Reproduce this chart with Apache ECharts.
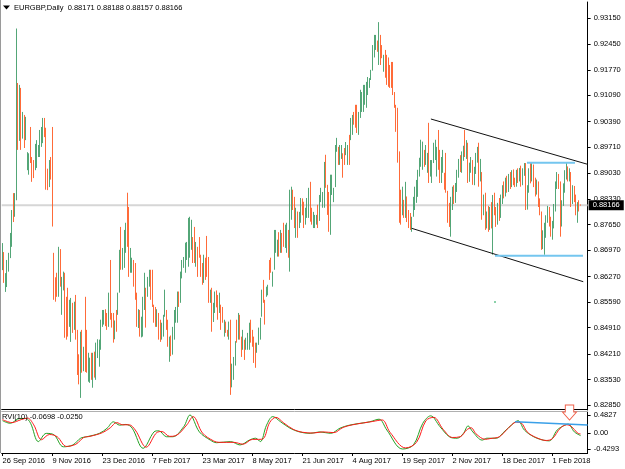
<!DOCTYPE html>
<html><head><meta charset="utf-8">
<script src="https://cdn.jsdelivr.net/npm/echarts@6/dist/echarts.min.js"></script>
<style>html,body{margin:0;padding:0;background:#fff}#c{width:625px;height:469px}</style>
</head><body><div id="c"></div>
<script>
// ---------- data ----------
const symbolName = 'EURGBP,Daily';
const lastBarOHLC = [0.88171, 0.88188, 0.88157, 0.88166];
const rviLast = [-0.0698, -0.0250];
const tickLabels = ['26 Sep 2016','9 Nov 2016','23 Dec 2016','7 Feb 2017','23 Mar 2017','8 May 2017','21 Jun 2017','4 Aug 2017','19 Sep 2017','2 Nov 2017','18 Dec 2017','1 Feb 2018'];
const priceTicks = [0.82850,0.83530,0.84210,0.84910,0.85590,0.86270,0.86970,0.87650,0.88330,0.89030,0.89710,0.90390,0.91090,0.91770,0.92450,0.93150];
const rviTicks = [0.4827, 0, -0.4293];
const skipDays = ['2017-12-25'];

// candles: [open, close, low, high]
const sep16 = [[.8660,.8700,.8644,.8716],[.8690,.8620,.8610,.8692],[.8595,.8630,.8586,.8636],[.8610,.8660,.8599,.8671],[.8650,.8680,.8640,.8690]];
const oct16 = [[.8680,.8735,.8676,.8743],[.8720,.8795,.8706,.8804],[.8838,.8790,.8772,.8849],[.8795,.8840,.8786,.8849],[.8840,.8995,.8830,.9287],[.9120,.8990,.8964,.9142],[.8995,.9110,.8988,.9137],[.9110,.8975,.8964,.9129],[.8995,.9050,.8994,.9065],[.9050,.8975,.8969,.9057],[.8990,.9040,.8990,.9052],[.8920,.8950,.8910,.8958],[.8910,.8945,.8898,.8955],[.9010,.8940,.8929,.9025],[.8940,.8890,.8879,.8945],[.8920,.8895,.8889,.8937],[.8915,.8960,.8910,.8980],[.8920,.8975,.8916,.8990],[.8950,.8970,.8945,.8977],[.8950,.9000,.8945,.9017],[.8990,.9020,.8972,.9025]];
const nov16 = [[.9020,.9045,.8982,.9049],[.9045,.9005,.8998,.9049],[.9015,.8870,.8858,.9023],[.8900,.8865,.8857,.8914],[.8870,.8920,.8865,.8937],[.8925,.8900,.8885,.8945],[.8895,.8805,.8760,.9025],[.8675,.8585,.8565,.8690],[.8600,.8575,.8560,.8625],[.8620,.8585,.8573,.8637],[.8585,.8690,.8573,.8706],[.8690,.8615,.8600,.8700],[.8535,.8615,.8525,.8626],[.8615,.8625,.8590,.8640],[.8630,.8480,.8464,.8637],[.8560,.8490,.8459,.8573],[.8580,.8475,.8467,.8597],[.8495,.8555,.8493,.8565],[.8460,.8560,.8453,.8570],[.8550,.8490,.8477,.8557],[.8490,.8545,.8485,.8560],[.8570,.8470,.8459,.8578]];
const dec16 = [[.8480,.8380,.8365,.8485],[.8390,.8350,.8340,.8420],[.8320,.8460,.8304,.8480],[.8470,.8395,.8371,.8485],[.8390,.8430,.8375,.8440],[.8450,.8390,.8373,.8573],[.8470,.8385,.8371,.8485],[.8360,.8415,.8347,.8424],[.8350,.8400,.8344,.8411],[.8415,.8365,.8352,.8424],[.8340,.8410,.8331,.8424],[.8420,.8370,.8358,.8427],[.8360,.8440,.8352,.8451],[.8430,.8450,.8410,.8460],[.8395,.8450,.8387,.8459],[.8440,.8505,.8432,.8512],[.8500,.8530,.8493,.8538],[.8505,.8530,.8499,.8538],[.8530,.8505,.8495,.8540],[.8525,.8495,.8485,.8530],[.8495,.8570,.8493,.8584],[.8600,.8525,.8512,.8671]];
const jan17 = [[.8525,.8500,.8491,.8530],[.8525,.8465,.8451,.8530],[.8465,.8500,.8460,.8510],[.8530,.8490,.8480,.8538],[.8530,.8575,.8525,.8584],[.8590,.8690,.8584,.8698],[.8750,.8660,.8645,.8759],[.8650,.8695,.8645,.8703],[.8660,.8740,.8650,.8751],[.8700,.8760,.8690,.8770],[.8760,.8720,.8706,.8850],[.8790,.8640,.8626,.8812],[.8645,.8695,.8637,.8703],[.8645,.8670,.8637,.8677],[.8670,.8610,.8600,.8671],[.8655,.8580,.8565,.8663],[.8580,.8500,.8493,.8584],[.8500,.8530,.8490,.8540],[.8535,.8475,.8467,.8538],[.8475,.8510,.8465,.8520],[.8475,.8565,.8467,.8573],[.8540,.8620,.8538,.8637]];
const feb17 = [[.8590,.8505,.8491,.8597],[.8580,.8620,.8573,.8626],[.8610,.8640,.8600,.8645],[.8640,.8580,.8565,.8645],[.8630,.8560,.8546,.8645],[.8550,.8520,.8504,.8552],[.8545,.8500,.8493,.8546],[.8500,.8530,.8493,.8540],[.8530,.8470,.8459,.8530],[.8505,.8465,.8453,.8512],[.8465,.8495,.8459,.8504],[.8470,.8515,.8467,.8525],[.8525,.8580,.8520,.8592],[.8535,.8495,.8485,.8538],[.8510,.8450,.8440,.8512],[.8410,.8455,.8400,.8467],[.8450,.8430,.8415,.8470],[.8425,.8485,.8419,.8493],[.8470,.8530,.8459,.8538],[.8515,.8540,.8504,.8546]];
const mar17 = [[.8510,.8580,.8504,.8587],[.8585,.8555,.8546,.8587],[.8560,.8630,.8557,.8640],[.8630,.8665,.8622,.8671],[.8650,.8672,.8650,.8679],[.8645,.8700,.8637,.8717],[.8680,.8710,.8671,.8719],[.8670,.8770,.8653,.8783],[.8720,.8780,.8677,.8786],[.8730,.8765,.8698,.8778],[.8720,.8675,.8663,.8732],[.8740,.8680,.8663,.8759],[.8665,.8710,.8653,.8719],[.8700,.8640,.8626,.8706],[.8725,.8690,.8677,.8732],[.8680,.8640,.8626,.8685],[.8660,.8615,.8605,.8663],[.8615,.8675,.8610,.8685],[.8670,.8630,.8618,.8677],[.8720,.8640,.8626,.8735],[.8670,.8570,.8557,.8679],[.8565,.8585,.8557,.8592],[.8590,.8490,.8480,.8597]];
const apr17 = [[.8510,.8550,.8506,.8557],[.8540,.8575,.8530,.8587],[.8575,.8560,.8545,.8590],[.8570,.8525,.8512,.8578],[.8535,.8570,.8530,.8584],[.8550,.8500,.8485,.8552],[.8540,.8510,.8504,.8546],[.8490,.8505,.8467,.8512],[.8505,.8485,.8477,.8507],[.8482,.8472,.8467,.8485],[.8465,.8500,.8459,.8507],[.8500,.8330,.8312,.8512],[.8340,.8390,.8332,.8395],[.8370,.8400,.8352,.8413],[.8400,.8440,.8390,.8455],[.8490,.8460,.8451,.8512],[.8460,.8515,.8459,.8530],[.8520,.8470,.8459,.8525],[.8465,.8430,.8413,.8467],[.8435,.8475,.8432,.8485]];
const may17 = [[.8455,.8420,.8405,.8459],[.8435,.8455,.8432,.8464],[.8440,.8470,.8432,.8477],[.8445,.8495,.8432,.8504],[.8500,.8470,.8451,.8512],[.8470,.8455,.8440,.8485],[.8460,.8410,.8397,.8467],[.8420,.8395,.8384,.8451],[.8430,.8445,.8424,.8451],[.8450,.8480,.8445,.8491],[.8460,.8510,.8459,.8517],[.8525,.8585,.8520,.8592],[.8600,.8570,.8557,.8618],[.8560,.8510,.8499,.8565],[.8575,.8595,.8573,.8600],[.8580,.8600,.8577,.8605],[.8660,.8625,.8618,.8671],[.8670,.8645,.8637,.8677],[.8610,.8635,.8600,.8640],[.8650,.8740,.8645,.8751],[.8700,.8740,.8690,.8751],[.8700,.8720,.8680,.8725],[.8740,.8695,.8680,.8745]];
const jun17 = [[.8700,.8745,.8690,.8751],[.8740,.8705,.8690,.8743],[.8760,.8715,.8706,.8770],[.8710,.8755,.8703,.8765],[.8700,.8760,.8690,.8770],[.8745,.8690,.8677,.8751],[.8650,.8840,.8640,.8858],[.8800,.8850,.8778,.8866],[.8850,.8815,.8804,.8858],[.8830,.8780,.8756,.8839],[.8755,.8790,.8730,.8810],[.8790,.8745,.8730,.8800],[.8760,.8785,.8756,.8799],[.8775,.8820,.8770,.8836],[.8820,.8800,.8790,.8835],[.8815,.8770,.8756,.8826],[.8770,.8795,.8765,.8810],[.8790,.8825,.8783,.8836],[.8800,.8850,.8783,.8863],[.8850,.8790,.8773,.8879],[.8800,.8775,.8765,.8810],[.8765,.8790,.8756,.8799]];
const jul17 = [[.8760,.8785,.8756,.8791],[.8770,.8785,.8765,.8791],[.8810,.8770,.8756,.8818],[.8780,.8830,.8775,.8844],[.8830,.8850,.8825,.8863],[.8815,.8845,.8810,.8852],[.8815,.8920,.8810,.8932],[.8930,.8880,.8863,.8951],[.8865,.8805,.8791,.8871],[.8830,.8760,.8746,.8852],[.8760,.8880,.8738,.8898],[.8860,.8890,.8844,.8898],[.8845,.8860,.8825,.8863],[.8870,.8960,.8865,.8977],[.8960,.8985,.8959,.8996],[.8965,.8940,.8924,.8972],[.8935,.8965,.8924,.8977],[.8950,.8970,.8940,.8977],[.8950,.8905,.8890,.8955],[.8960,.8930,.8924,.8969],[.8950,.8975,.8950,.8985]];
const aug17 = [[.8935,.8965,.8924,.8977],[.8990,.8935,.8924,.9004],[.8995,.9030,.8990,.9049],[.9010,.9040,.9004,.9057],[.9055,.9035,.9031,.9065],[.9070,.9030,.9023,.9084],[.9060,.9025,.9009,.9084],[.9010,.9050,.9004,.9065],[.9060,.9110,.9049,.9124],[.9080,.9105,.9065,.9118],[.9070,.9120,.9065,.9137],[.9095,.9125,.9084,.9137],[.9090,.9130,.9076,.9145],[.9125,.9145,.9110,.9158],[.9135,.9150,.9129,.9155],[.9150,.9170,.9150,.9177],[.9180,.9220,.9175,.9243],[.9220,.9240,.9210,.9270],[.9235,.9255,.9230,.9270],[.9250,.9235,.9225,.9255],[.9215,.9270,.9190,.9304],[.9265,.9200,.9190,.9270],[.9235,.9215,.9208,.9243]];
const sep17 = [[.9190,.9215,.9172,.9217],[.9225,.9180,.9156,.9230],[.9200,.9150,.9137,.9217],[.9190,.9150,.9132,.9210],[.9180,.9145,.9129,.9190],[.9185,.9140,.9129,.9198],[.9180,.9120,.9110,.9198],[.9115,.9090,.9076,.9118],[.9080,.9035,.9012,.9084],[.9060,.8950,.8930,.9076],[.8950,.8790,.8770,.8960],[.8795,.8780,.8765,.8858],[.8800,.8845,.8790,.8866],[.8830,.8795,.8783,.8831],[.8790,.8860,.8783,.8879],[.8836,.8785,.8772,.8840],[.8800,.8770,.8756,.8804],[.8790,.8760,.8751,.8796],[.8755,.8780,.8746,.8786],[.8790,.8830,.8786,.8839],[.8810,.8855,.8804,.8866]];
const oct17 = [[.8830,.8870,.8823,.8884],[.8845,.8895,.8839,.8911],[.8900,.8930,.8893,.8943],[.8925,.8980,.8919,.8991],[.8920,.8975,.8911,.8986],[.8960,.8935,.8919,.8964],[.8930,.8960,.8924,.8977],[.8915,.8945,.8903,.8956],[.8990,.8895,.8876,.9036],[.8900,.8925,.8893,.8937],[.8885,.8930,.8876,.8937],[.8940,.8970,.8929,.8983],[.8945,.8975,.8937,.8991],[.8930,.8960,.8893,.8972],[.8990,.8925,.8911,.9017],[.8950,.8890,.8876,.8964],[.8885,.8935,.8876,.8945],[.8915,.8950,.8903,.8964],[.8895,.8865,.8858,.8903],[.8940,.8860,.8850,.8956],[.8850,.8790,.8770,.8855],[.8795,.8770,.8759,.8823]];
const nov17 = [[.8760,.8820,.8733,.8839],[.8815,.8850,.8804,.8866],[.8845,.8830,.8820,.8870],[.8830,.8865,.8823,.8876],[.8860,.8900,.8852,.8911],[.8900,.8930,.8890,.8940],[.8930,.8915,.8905,.8950],[.8915,.8945,.8903,.8960],[.8945,.8960,.8935,.8975],[.8990,.8955,.8945,.9017],[.8955,.8975,.8940,.8990],[.8975,.8890,.8876,.8983],[.8890,.8920,.8879,.8930],[.8915,.8935,.8903,.8945],[.8930,.8885,.8871,.8937],[.8885,.8910,.8870,.8919],[.8910,.8940,.8900,.8956],[.8940,.8960,.8930,.8972],[.8970,.8890,.8866,.8983],[.8890,.8925,.8880,.8940],[.8900,.8800,.8778,.8905],[.8800,.8830,.8790,.8845]];
const dec17 = [[.8830,.8770,.8751,.8850],[.8770,.8785,.8755,.8800],[.8785,.8760,.8746,.8815],[.8760,.8800,.8751,.8812],[.8800,.8765,.8755,.8825],[.8740,.8830,.8685,.8844],[.8830,.8800,.8790,.8850],[.8800,.8770,.8759,.8812],[.8770,.8810,.8765,.8823],[.8810,.8790,.8775,.8836],[.8790,.8830,.8783,.8845],[.8830,.8860,.8820,.8870],[.8860,.8845,.8835,.8880],[.8845,.8875,.8840,.8890],[.8875,.8860,.8850,.8895],[.8860,.8885,.8852,.8900],[.8885,.8870,.8860,.8905],[.8870,.8895,.8865,.8910],[.8895,.8880,.8870,.8912],[.8880,.8875,.8865,.8890]];
const jan18 = [[.8875,.8900,.8866,.8911],[.8900,.8890,.8876,.8915],[.8890,.8905,.8880,.8916],[.8905,.8880,.8866,.8922],[.8880,.8905,.8870,.8915],[.8905,.8920,.8895,.8929],[.8920,.8815,.8804,.8929],[.8815,.8860,.8805,.8870],[.8860,.8905,.8850,.8915],[.8905,.8890,.8875,.8929],[.8890,.8915,.8880,.8929],[.8915,.8880,.8865,.8925],[.8880,.8860,.8840,.8890],[.8860,.8875,.8845,.8885],[.8875,.8820,.8812,.8880],[.8820,.8805,.8790,.8835],[.8790,.8715,.8698,.8800],[.8715,.8730,.8700,.8750],[.8720,.8760,.8685,.8770],[.8755,.8780,.8730,.8790],[.8780,.8800,.8770,.8815],[.8800,.8770,.8760,.8812],[.8770,.8745,.8733,.8786]];
const feb18 = [[.8745,.8760,.8725,.8775],[.8765,.8810,.8755,.8820],[.8810,.8870,.8800,.8880],[.8870,.8895,.8860,.8905],[.8895,.8870,.8860,.8900],[.8870,.8760,.8733,.8880],[.8770,.8820,.8760,.8830],[.8820,.8860,.8815,.8875],[.8860,.8900,.8850,.8910],[.8900,.8915,.8885,.8929],[.8915,.8890,.8880,.8920],[.8890,.8905,.8880,.8915],[.8900,.8830,.8812,.8905],[.8830,.8860,.8820,.8870],[.8860,.8835,.8825,.8868],[.8835,.8800,.8790,.8845],[.8800,.8815,.8770,.8825],[.8815,.8810,.8800,.8830],[.88171,.88166,.88157,.88188]];

// RVI(10): [bar index, value]
const rviMain = [[0,.33],[5,.26],[11,.39],[15,.39],[18,.26],[23,-.23],[28,-.01],[33,-.05],[39,-.37],[45,-.32],[50,-.14],[54,-.10],[62,-.01],[67,.13],[71,.30],[75,.21],[79,.23],[83,.13],[90,-.41],[97,.03],[100,.06],[105,-.10],[109,-.10],[116,.17],[120,.4827],[126,.03],[133,-.19],[137,-.26],[146,-.23],[152,-.32],[158,-.19],[162,-.14],[165,-.23],[169,.21],[173,.44],[178,.30],[184,.13],[190,.03],[197,-.01],[203,.03],[210,-.01],[216,.13],[222,.21],[229,.26],[235,.30],[241,.37],[246,.08],[256,-.4293],[263,-.32],[269,.26],[274,.46],[280,.17],[286,-.10],[291,-.14],[295,-.01],[298,.19],[301,.03],[307,-.19],[310,-.14],[316,-.14],[321,.03],[327,.26],[330,.33],[334,.08],[340,-.10],[346,-.19],[350,-.21],[355,.08],[359,.19],[362,.24],[366,.03],[370,-.0698]];
const rviSignal = [[0,.36],[6,.28],[12,.36],[16,.40],[20,.22],[25,-.18],[30,-.04],[35,-.10],[41,-.36],[47,-.30],[52,-.12],[56,-.09],[64,.01],[69,.14],[73,.28],[77,.22],[81,.22],[85,.08],[92,-.38],[99,.02],[102,.04],[107,-.09],[111,-.07],[118,.22],[122,.44],[128,.0],[135,-.21],[139,-.25],[148,-.25],[154,-.30],[160,-.17],[164,-.17],[167,-.15],[171,.28],[175,.42],[180,.27],[186,.10],[192,.02],[199,.0],[205,.03],[212,.01],[218,.15],[224,.22],[231,.27],[237,.31],[243,.35],[248,.02],[258,-.40],[265,-.25],[271,.33],[276,.42],[282,.10],[288,-.12],[293,-.10],[297,.08],[300,.14],[303,-.02],[309,-.17],[312,-.15],[318,-.10],[323,.10],[329,.29],[332,.27],[336,.02],[342,-.13],[348,-.20],[352,-.15],[357,.13],[361,.22],[364,.18],[368,.0],[370,-.025]];

// drawn objects (anchors: [bar index, value])
const channelUpper = [[274.2, 0.90462], [374.5, 0.89256]];
const channelLower = [[261.9, 0.87553], [371.7, 0.86132]];
const rangeTop = [[335.7, 0.89299], [366.4, 0.89299]];
const rangeBottom = [[315.2, 0.86824], [371.5, 0.86824]];
const rviTrend = [[328, 0.303], [374.5, 0.217]];
const arrowAt = [362.9, 0.55];
const strayDot = [[315.2, 0.8559]];

// ---------- build ----------
const candles = [].concat(sep16,oct16,nov16,dec16,jan17,feb17,mar17,apr17,may17,jun17,jul17,aug17,sep17,oct17,nov17,dec17,jan18,feb18);
const days = [];
(function(){
  const d = new Date(Date.UTC(2016,8,26));
  while (days.length < candles.length) {
    const wd = d.getUTCDay(), key = d.toISOString().slice(0,10);
    if (wd !== 0 && wd !== 6 && skipDays.indexOf(key) < 0) days.push(key);
    d.setUTCDate(d.getUTCDate()+1);
  }
})();
const categories = days.concat(['p1','p2','p3','p4']);
const N = categories.length;
const FONT = 'Liberation Sans';
const FS = 7.5;
const band = 1.5625;
const gridLeft = 1.7;
const gridW = N * band;
const isTick = (i) => i % 32 === 0 && (i/32) < tickLabels.length;

const chart = echarts.init(document.getElementById('c'), null, {renderer:'canvas'});
const lineOpt = (data, color, width, z) => ({
  type:'line', xAxisIndex:2, yAxisIndex:0, data, symbol:'none', silent:true, z: z||4,
  lineStyle:{color, width}, animation:false
});
chart.setOption({
  animation:false,
  backgroundColor:'#fff',
  textStyle:{fontFamily:FONT},
  grid:[
    {left:gridLeft, top:2, width:gridW, height:407, outerBoundsMode:'none'},
    {left:gridLeft, top:411, width:gridW, height:42, outerBoundsMode:'none'}
  ],
  xAxis:[
    {type:'category', gridIndex:0, data:categories, boundaryGap:true,
     axisLine:{show:true, onZero:false, lineStyle:{color:'#000', width:1}},
     axisTick:{show:false}, axisLabel:{show:false}, splitLine:{show:false}},
    {type:'category', gridIndex:1, data:categories, boundaryGap:true,
     axisLine:{show:true, onZero:false, lineStyle:{color:'#000', width:1}},
     axisTick:{show:true, alignWithLabel:true, interval:isTick, length:3, lineStyle:{color:'#000'}},
     axisLabel:{show:true, interval:isTick, formatter:(v,i)=> tickLabels[Math.round(i/32)] || '',
       align:'left', fontSize:FS, fontFamily:FONT, color:'#000', margin:4},
     splitLine:{show:false}},
    {type:'value', gridIndex:0, min:-0.5, max:N-0.5, show:false},
    {type:'value', gridIndex:1, min:-0.5, max:N-0.5, position:'top',
     axisLine:{show:true, onZero:false, lineStyle:{color:'#b0b0b0'}}, axisTick:{show:false},
     axisLabel:{show:false}, splitLine:{show:false}}
  ],
  yAxis:[
    {type:'value', gridIndex:0, position:'right', min:0.82744, max:0.93576,
     axisLine:{show:true, onZero:false, lineStyle:{color:'#000'}},
     axisTick:{show:true, customValues:priceTicks, length:3, lineStyle:{color:'#000'}},
     axisLabel:{customValues:priceTicks, formatter:(v)=>v.toFixed(5), fontSize:FS, fontFamily:FONT, color:'#000', margin:6},
     splitLine:{show:false}},
    {type:'value', gridIndex:1, position:'right', min:-0.536, max:0.590,
     axisLine:{show:true, onZero:false, lineStyle:{color:'#000'}},
     axisTick:{show:true, customValues:rviTicks, length:3, lineStyle:{color:'#000'}},
     axisLabel:{customValues:rviTicks, formatter:(v)=> v===0 ? '0.00' : v.toFixed(4), fontSize:FS, fontFamily:FONT, color:'#000', margin:6},
     splitLine:{show:false}}
  ],
  graphic:[
    {type:'line', shape:{x1:0.5, y1:0, x2:0.5, y2:453}, style:{stroke:'#9a9a9a', lineWidth:1}, silent:true},
    {type:'polygon', shape:{points:[[3,5.5],[10,5.5],[6.5,9.5]]}, style:{fill:'#000'}, silent:true},
    {type:'text', x:14, y:8, style:{text: symbolName + '  ' + lastBarOHLC.map(v=>v.toFixed(5)).join(' '),
       fontSize:FS, fontFamily:FONT, fill:'#000', verticalAlign:'middle'}, silent:true},
    {type:'text', x:2, y:416.5, z:10, style:{text:'RVI(10) ' + rviLast[0].toFixed(4) + ' ' + rviLast[1].toFixed(4),
       fontSize:FS, fontFamily:FONT, fill:'#000', verticalAlign:'middle'}, silent:true}
  ],
  series:[
    {type:'line', name:'bid', xAxisIndex:2, yAxisIndex:0, z:1, silent:true, symbol:'none',
     data:[[-0.5, lastBarOHLC[3]],[N-0.5, lastBarOHLC[3]]],
     lineStyle:{color:'#d6d6d6', width:2},
     endLabel:{show:true, formatter:()=>lastBarOHLC[3].toFixed(5), backgroundColor:'#000', color:'#fff',
       fontSize:FS, fontFamily:FONT, padding:[1,4,1,4], distance:1}},
    {type:'candlestick', xAxisIndex:0, yAxisIndex:0, data:candles, barWidth:0.9, z:2, silent:true,
     itemStyle:{color:'#3f9c68', color0:'#ff5a22', borderColor:'#3f9c68', borderColor0:'#ff5a22', borderWidth:0.9}},
    lineOpt(channelUpper, '#111', 1),
    lineOpt(channelLower, '#111', 1),
    lineOpt(rangeTop, '#74c6ef', 2),
    lineOpt(rangeBottom, '#74c6ef', 2),
    {type:'scatter', xAxisIndex:2, yAxisIndex:0, data:strayDot, symbolSize:2, itemStyle:{color:'#3cb371'}, silent:true},
    {type:'line', xAxisIndex:3, yAxisIndex:1, data:rviMain, symbol:'none', smooth:0.35, silent:true,
     lineStyle:{color:'#23a123', width:1}},
    {type:'line', xAxisIndex:3, yAxisIndex:1, data:rviSignal, symbol:'none', smooth:0.35, silent:true,
     lineStyle:{color:'#ff1a1a', width:1}},
    {type:'line', xAxisIndex:3, yAxisIndex:1, data:rviTrend, symbol:'none', silent:true, z:5,
     lineStyle:{color:'#3aa0e8', width:1.5},
     markPoint:{silent:true, data:[{coord:arrowAt}], symbol:'path://M3,0 L12,0 L12,7 L15,7 L7.5,15 L0,7 L3,7 Z',
       symbolSize:[14,15], itemStyle:{color:'#fff', borderColor:'#f0604a', borderWidth:1}, label:{show:false}}}
  ]
});
</script>
</body></html>
